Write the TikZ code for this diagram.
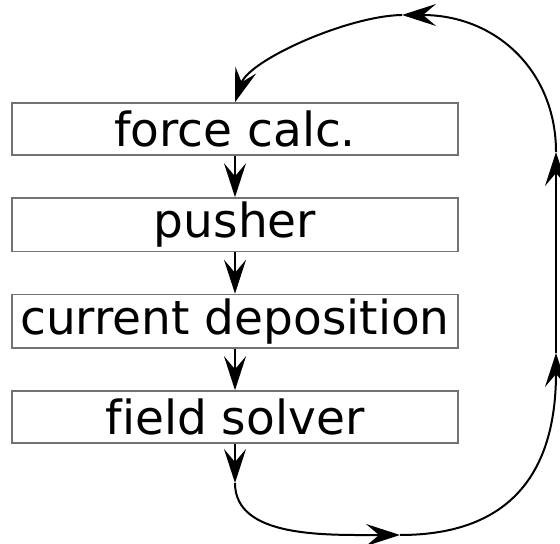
\documentclass[tikz,border=0pt]{standalone}
\usepackage{fontspec}
\setmainfont[Ligatures=NoCommon]{DejaVu Sans}
\usetikzlibrary{positioning,arrows.meta}
\tikzset{
  stage/.style={draw=black!55,line width=0.75pt,minimum width=223pt,minimum height=26pt,
    inner sep=2pt,font=\fontsize{23.5}{28}\selectfont},
  flow/.style={draw=black,line width=1pt,-{Stealth[length=17pt,width=11pt,inset=6.5pt]}},
}

\begin{document}
\begin{tikzpicture}[x=0.5pt,y=0.5pt,node distance=20.75pt]
\useasboundingbox (0,0) rectangle (560,544);
% the four stages of one step
\node[stage] (force) at (235,415) {force calc.};
\node[stage,below=of force] (push) {pusher};
\node[stage,below=of push] (dep) {current deposition};
\node[stage,below=of dep] (solve) {field solver};
\draw[flow] (force) -- (push);
\draw[flow] (push) -- (dep);
\draw[flow] (dep) -- (solve);
% loop back to the top
\coordinate (l1) at (235,61);
\coordinate (l2) at (400,9);
\coordinate (l3) at (556,191);
\coordinate (l4) at (556,392);
\coordinate (l5) at (402,529);
\draw[flow] (solve) -- (l1);
\draw[flow] (l1) .. controls +(0,-55) and +(-75,0) .. (l2);
\draw[flow] (l2) .. controls +(110,0) and +(0,-120) .. (l3);
\draw[flow] (l3) -- (l4);
\draw[flow] (l4) .. controls +(0,80) and +(95,0) .. (l5);
\draw[flow] (l5) .. controls +(-55,-1) and +(14,42) .. (force.north);
\end{tikzpicture}
\end{document}
